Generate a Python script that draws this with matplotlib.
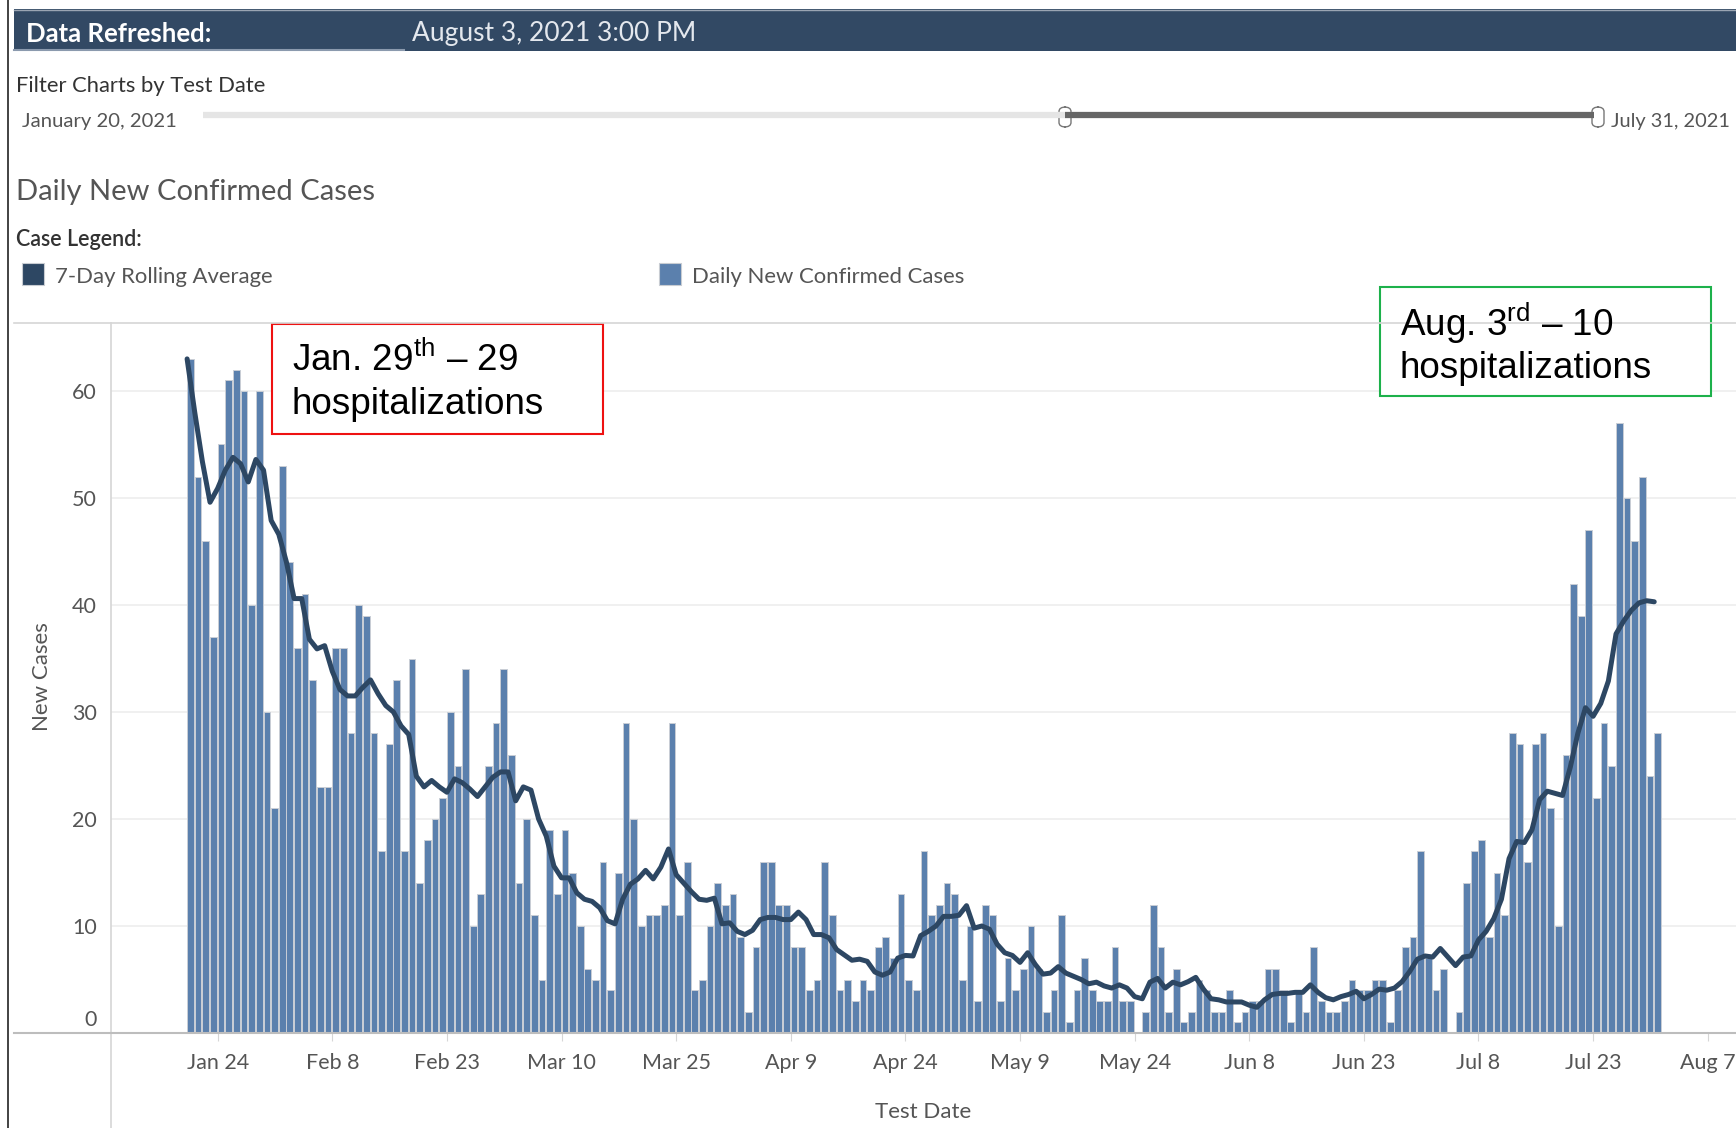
import numpy as np
import pandas as pd
import matplotlib
matplotlib.use("Agg")
import matplotlib.pyplot as plt
import matplotlib.dates as mdates
import matplotlib.transforms as mtransforms
from matplotlib.patches import Rectangle, FancyBboxPatch
from matplotlib.lines import Line2D

# ---------------------------------------------------------------------------
# data
# ---------------------------------------------------------------------------
start_date = "2021-01-20"

daily_cases = [
    63, 52, 46, 37, 55, 61, 62, 60, 40, 60, 30, 21, 53, 44, 36, 41, 33, 23, 23, 36,
    36, 28, 40, 39, 28, 17, 27, 33, 17, 35, 14, 18,
    20, 22, 30, 25, 34, 10, 13, 25, 29, 34, 26, 14, 20, 11, 5, 19, 13, 19,
    15, 10, 6, 5, 16, 4, 15, 29, 20, 10, 11, 11, 12,
    29, 11, 16, 4, 5, 10, 14, 12, 13, 9, 2, 8, 16, 16, 12, 12, 8, 8,
    4, 5, 16, 11, 4, 5, 3, 5, 4, 8, 9, 7, 13,
    5, 4, 17, 11, 12, 14, 13, 5, 10, 3, 12, 11, 3, 7, 4, 6, 10, 6,
    2, 4, 11, 1, 4, 7, 4, 3, 3, 8, 3, 3,
    0, 2, 12, 8, 2, 6, 1, 2, 5, 4, 2, 2, 4, 1, 2, 3, 3, 6, 6, 4,
    1, 4, 2, 8, 3, 2, 2, 3, 5, 4, 4, 5, 5,
    1, 4, 8, 9, 17, 7, 4, 6, 0, 2, 14, 17, 18, 9, 15, 11, 28, 27, 16, 27,
    28, 21, 10, 26, 42, 39, 47, 22, 29, 25, 57, 50, 46, 52, 24, 28,
]

rolling_avg = [
    63, 58, 53.4, 49.6, 50.9, 52.6, 53.8, 53.2, 51.5, 53.6, 52.6, 47.9, 46.6, 44,
    40.6, 40.6, 36.8, 35.9, 36.2, 33.8, 32.1, 31.5, 31.5, 32.3, 33, 31.7, 30.6, 30,
    28.7, 27.9, 24, 23,
    23.6, 23, 22.5, 23.75, 23.4, 22.8, 22.1, 23, 23.9, 24.4, 24.4, 21.7, 23, 22.7,
    20, 18.4, 15.6, 14.5, 14.5, 13.1, 12.5, 12.3, 11.7, 10.5, 10.2, 12.5, 13.9,
    14.4, 15.2, 14.4, 15.5,
    17.2, 14.8, 14, 13.2, 12.5, 12.4, 12.6, 10.2, 10.3, 9.5, 9.2, 9.6, 10.6, 10.8,
    10.8, 10.6, 10.6, 11.3, 10.6, 9.2, 9.2, 8.9, 7.8, 7.3, 6.8, 6.9, 6.7, 5.7,
    5.4, 5.7, 7,
    7.25, 7.2, 9.1, 9.5, 10, 10.9, 10.9, 11, 11.9, 9.8, 10, 9.7, 8.3, 7.5, 7.25,
    6.6, 7.5, 6.4, 5.5, 5.6, 6.2, 5.6, 5.3, 5, 4.6, 4.75, 4.4, 4.2, 4.5, 4.2,
    3.4, 3.2, 4.75, 5.1, 4.2, 4.75, 4.5, 4.8, 5.2, 4.1, 3.2, 3.1, 2.9, 2.9, 2.9,
    2.6, 2.4, 3.1, 3.6, 3.7, 3.7, 3.8, 3.8, 4.5, 3.8, 3.3, 3.1, 3.4, 3.6, 3.9,
    3.2, 3.6, 4.1,
    4, 4.2, 4.8, 5.75, 6.9, 7.2, 7.1, 7.9, 7.1, 6.3, 7.1, 7.2, 8.7, 9.5, 10.7,
    12.5, 16.3, 17.9, 17.8, 19, 21.8, 22.6, 22.4, 22.2, 24.8, 28, 30.4, 29.6,
    30.8, 32.9, 37.3, 38.5, 39.5, 40.2, 40.4, 40.3,
]

tick_dates = ["2021-01-24", "2021-02-08", "2021-02-23", "2021-03-10", "2021-03-25",
              "2021-04-09", "2021-04-24", "2021-05-09", "2021-05-24", "2021-06-08",
              "2021-06-23", "2021-07-08", "2021-07-23", "2021-08-07"]
tick_labels = ["Jan 24", "Feb 8", "Feb 23", "Mar 10", "Mar 25", "Apr 9", "Apr 24",
               "May 9", "May 24", "Jun 8", "Jun 23", "Jul 8", "Jul 23", "Aug 7"]
y_ticks = [0, 10, 20, 30, 40, 50, 60]

dates = pd.date_range(start_date, periods=len(daily_cases), freq="D")

# ---------------------------------------------------------------------------
# layout helpers (pixel coords of the 1736x1128 canvas, y from top)
# ---------------------------------------------------------------------------
W, H = 1736, 1128
FONT = "Lato"
NAVY = "#324964"
BAR_BLUE = "#5b80ad"
LINE_BLUE = "#2d4763"


def fx(x):
    return x / W


def fy(y):
    return 1 - y / H


fig = plt.figure(figsize=(W / 100, H / 100), dpi=100)
fig.patch.set_facecolor("white")


def ftext(x, y, s, **kw):
    kw.setdefault("family", FONT)
    kw.setdefault("va", "center")
    return fig.text(fx(x), fy(y), s, transform=fig.transFigure, **kw)


def fline(x0, y0, x1, y1, **kw):
    fig.add_artist(Line2D([fx(x0), fx(x1)], [fy(y0), fy(y1)],
                          transform=fig.transFigure, **kw))


def frect(x0, y0, x1, y1, **kw):
    fig.add_artist(Rectangle((fx(x0), fy(y1)), fx(x1) - fx(x0), fy(y0) - fy(y1),
                             transform=fig.transFigure, **kw))


# --- header bar ---
frect(14, 9, W, 51, facecolor=NAVY, edgecolor="none")
fline(14, 9.5, W, 9.5, color="#9aa5b3", lw=1)
fline(14, 49.5, 404, 49.5, color="#8b9aae", lw=1.5)
ftext(26, 33.5, "Data Refreshed:", color="white", fontsize=18.5, fontweight="bold")
ftext(412, 34, "August 3, 2021 3:00 PM", color="#e4e8ee", fontsize=19)

# left border line of the screenshot
fline(7.7, 0, 7.7, H, color="#222222", lw=1.2)

# --- date filter slider ---
ftext(15.5, 86, "Filter Charts by Test Date", color="#333333", fontsize=15.8)
ftext(22, 122, "January 20, 2021", color="#555555", fontsize=14.6)
ftext(1611, 122, "July 31, 2021", color="#555555", fontsize=14.4)
fline(203, 115, 1065, 115, color="#e5e5e5", lw=4.5, solid_capstyle="butt")
fline(1065, 115, 1594, 115, color="#666666", lw=4.5, solid_capstyle="butt")
for hx in (1059, 1592):
    fig.add_artist(FancyBboxPatch((fx(hx), fy(127)), fx(12), 20 / H,
                                  boxstyle="round,pad=0,rounding_size=0.004",
                                  transform=fig.transFigure, facecolor="white",
                                  edgecolor="#777777", lw=1))

# --- chart title and legend ---
ftext(15.5, 192, "Daily New Confirmed Cases", color="#555555", fontsize=21)
ftext(15.5, 240, "Case Legend:", color="#333333", fontsize=15.5, fontweight="semibold")
frect(22, 263, 44, 285, facecolor=LINE_BLUE, edgecolor="#c8ccd2", lw=0.8)
ftext(55, 276.5, "7-Day Rolling Average", color="#555555", fontsize=15.9)
frect(659, 263, 681, 285, facecolor=BAR_BLUE, edgecolor="#c8ccd2", lw=0.8)
ftext(692, 276.5, "Daily New Confirmed Cases", color="#555555", fontsize=15.9)

# separators
fline(14, 323, W, 323, color="#d6d6d6", lw=1.2)
fline(110.7, 323, 110.7, H, color="#d6d6d6", lw=1.2)

# ---------------------------------------------------------------------------
# main chart
# ---------------------------------------------------------------------------
ax_left, ax_top, ax_bottom = 110.7, 323, 1033
ax = fig.add_axes([fx(ax_left), fy(ax_bottom), 1 - fx(ax_left), (ax_bottom - ax_top) / H])
ax.set_facecolor("none")

ax.bar(dates, daily_cases, width=0.88, align="edge", color=BAR_BLUE,
       edgecolor="#c9ced6", linewidth=0.7, zorder=2)
ax.plot(dates, rolling_avg, color=LINE_BLUE, lw=3.6, solid_joinstyle="round",
        solid_capstyle="round", zorder=3)

x0 = pd.Timestamp(start_date) - pd.Timedelta(days=10.0)
x1 = pd.Timestamp(start_date) + pd.Timedelta(days=202.7)
ax.set_xlim(x0, x1)
ax.set_ylim(0, (ax_bottom - ax_top) / 10.7)

for s in ax.spines.values():
    s.set_visible(False)

ax.set_yticks(y_ticks)
ax.set_yticklabels([str(v) for v in y_ticks])
ax.yaxis.grid(True, color="#eeeeee", lw=1.2, zorder=0)
ax.tick_params(axis="y", length=0, pad=10, labelsize=15.5, labelcolor="#555555")

ax.set_xticks(pd.to_datetime(tick_dates))
ax.set_xticklabels(tick_labels)
ax.tick_params(axis="x", length=6, width=0.8, color="#d6d6d6", pad=8.5,
               labelsize=15.5, labelcolor="#555555")
for lbl in ax.get_xticklabels() + ax.get_yticklabels():
    lbl.set_family(FONT)

# Tableau lifts the bottom axis label a little off the baseline
zero_lbl = ax.get_yticklabels()[0]
zero_lbl.set_transform(zero_lbl.get_transform() +
                       mtransforms.ScaledTranslation(0, 0.15, fig.dpi_scale_trans))

# baseline across the whole width
fline(14, 1033, W, 1033, color="#bdbdbd", lw=1.5)

ftext(923, 1112, "Test Date", color="#555555", fontsize=16, ha="center")
ftext(42, 677, "New Cases", color="#555555", fontsize=16, ha="center", rotation=90)

# ---------------------------------------------------------------------------
# annotation boxes
# ---------------------------------------------------------------------------
plt.rcParams["mathtext.fontset"] = "custom"
plt.rcParams["mathtext.rm"] = "Liberation Sans"

frect(272, 324, 603, 434, facecolor="white", edgecolor="#ee1111", lw=1.5)
ftext(292, 360, r"Jan. 29$^{\rm th}$ – 29", family="Liberation Sans",
      color="black", fontsize=26.6)
ftext(292, 404, "hospitalizations", family="Liberation Sans", color="black", fontsize=26.6)

frect(1380, 287, 1711, 396, facecolor="white", edgecolor="#1db14b", lw=1.5)
ftext(1400, 323, r"Aug. 3$^{\rm rd}$ – 10", family="Liberation Sans",
      color="black", fontsize=26.6)
ftext(1400, 368, "hospitalizations", family="Liberation Sans", color="black", fontsize=26.6)

fig.savefig("out.png", dpi=100, facecolor="white")
